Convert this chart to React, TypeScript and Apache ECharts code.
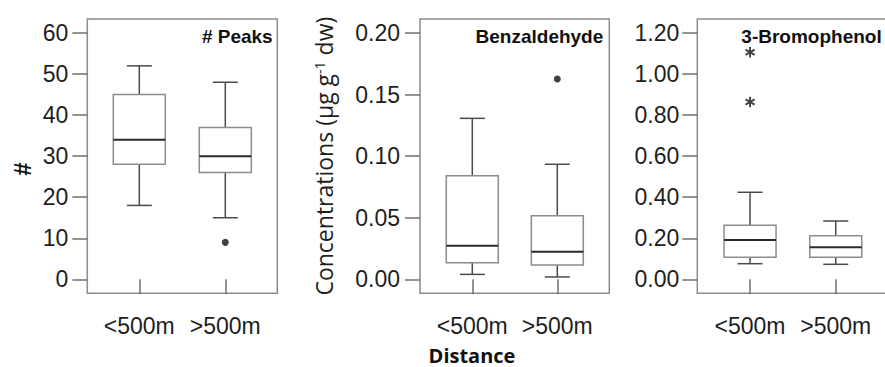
import React, { useEffect, useRef } from "react";
import * as echarts from "echarts";

const categories = ["<500m", ">500m"];

// [low whisker, Q1, median, Q3, high whisker]
const peaksStats = [
  [18, 28, 34, 45, 52],
  [15, 26, 30, 37, 48],
];
const peaksOutliers = [[1, 9]];

const benzStats = [
  [0.004, 0.0135, 0.0273, 0.084, 0.1307],
  [0.0019, 0.0116, 0.0224, 0.0517, 0.0934],
];
const benzOutliers = [[1, 0.1627]];

const bromoStats = [
  [0.076, 0.107, 0.1915, 0.263, 0.424],
  [0.073, 0.107, 0.156, 0.2125, 0.284],
];
const bromoExtremes = [
  [0, 1.106],
  [0, 0.864],
];

const peaksTicks = [0, 10, 20, 30, 40, 50, 60];
const benzTicks = [0, 0.05, 0.1, 0.15, 0.2];
const bromoTicks = [0, 0.2, 0.4, 0.6, 0.8, 1.0, 1.2];

const titles = ["# Peaks", "Benzaldehyde", "3-Bromophenol"];

const STAR =
  "path://M4.1 0 L5.9 0 L5.9 10 L4.1 10 Z M0.22 3.28 L1.12 1.72 L9.78 6.72 L8.88 8.28 Z M1.12 8.28 L0.22 6.72 L8.88 1.72 L9.78 3.28 Z";

const SANS = "'Liberation Sans', Arial, sans-serif";
const HUMAN = "'Open Sans', 'Noto Sans', sans-serif";
const LABEL_COLOR = "#1e1e1e";
const GREY = "#8c8c8c";

export default function App() {
  const ref = useRef<HTMLDivElement>(null);

  useEffect(() => {
    document.body.style.margin = "0";
    if (!ref.current) return;
    const chart = echarts.init(ref.current, null, { renderer: "svg" });

    const frames = [
      { x: 87.3, w: 190 },
      { x: 420, w: 189.3 },
      { x: 697.3, w: 190 },
    ];
    const grids = [
      { left: 96.3, width: 172 },
      { left: 429.8, width: 170 },
      { left: 707.2, width: 171.4 },
    ];
    const top = 19;
    const height = 274.3;

    const yRanges = [
      { min: -3.41, max: 63.41, ticks: peaksTicks, fmt: (v: number) => String(Math.round(v)) },
      { min: -0.01137, max: 0.21137, ticks: benzTicks, fmt: (v: number) => v.toFixed(2) },
      { min: -0.0682, max: 1.2682, ticks: bromoTicks, fmt: (v: number) => v.toFixed(2) },
    ];
    const labelMargins = [19, 20, 18];

    const statsList = [peaksStats, benzStats, bromoStats];

    const renderBox = (params: any, api: any) => {
      const x = api.value(0);
      const lo = api.coord([x, api.value(1)]);
      const q1 = api.coord([x, api.value(2)]);
      const med = api.coord([x, api.value(3)]);
      const q3 = api.coord([x, api.value(4)]);
      const hi = api.coord([x, api.value(5)]);
      const cx = lo[0];
      const hw = 26;
      const cw = 12.5;
      const wStyle = { stroke: "#4a4a4a", lineWidth: 1.5, fill: "none" };
      return {
        type: "group",
        children: [
          { type: "line", shape: { x1: cx, y1: hi[1], x2: cx, y2: q3[1] }, style: wStyle },
          { type: "line", shape: { x1: cx - cw, y1: hi[1], x2: cx + cw, y2: hi[1] }, style: wStyle },
          { type: "line", shape: { x1: cx, y1: lo[1], x2: cx, y2: q1[1] }, style: wStyle },
          { type: "line", shape: { x1: cx - cw, y1: lo[1], x2: cx + cw, y2: lo[1] }, style: wStyle },
          {
            type: "rect",
            shape: { x: cx - hw, y: q3[1], width: hw * 2, height: q1[1] - q3[1] },
            style: { fill: "#ffffff", stroke: GREY, lineWidth: 1.5 },
          },
          {
            type: "line",
            shape: { x1: cx - hw, y1: med[1], x2: cx + hw, y2: med[1] },
            style: { stroke: "#2a2a2a", lineWidth: 2 },
          },
        ],
      };
    };

    const option: any = {
      animation: false,
      backgroundColor: "#ffffff",
      grid: grids.map((g) => ({
        left: g.left,
        width: g.width,
        top,
        height,
        containLabel: false,
        outerBoundsMode: "none",
      })),
      xAxis: grids.map((_, i) => ({
        type: "category",
        gridIndex: i,
        data: categories,
        boundaryGap: true,
        axisLine: { show: false },
        axisTick: {
          show: true,
          interval: 0,
          alignWithLabel: true,
          length: 15,
          lineStyle: { color: "#6f6f6f", width: 1.5 },
        },
        axisLabel: {
          interval: 0,
          hideOverlap: false,
          margin: 21,
          fontSize: 23,
          fontFamily: SANS,
          color: LABEL_COLOR,
        },
        splitLine: { show: false },
      })),
      yAxis: yRanges.map((r, i) => ({
        type: "value",
        gridIndex: i,
        min: r.min,
        max: r.max,
        offset: grids[i].left - frames[i].x,
        axisLine: { show: false },
        axisTick: { show: true, length: 15, customValues: r.ticks, lineStyle: { color: "#6f6f6f", width: 1.5 } },
        axisLabel: {
          customValues: r.ticks,
          formatter: r.fmt,
          margin: labelMargins[i],
          fontSize: 23,
          fontFamily: SANS,
          color: LABEL_COLOR,
        },
        splitLine: { show: false },
        ...(i === 1
          ? {
              name: "Concentrations (µg g{sup|-1} dw)",
              nameLocation: "middle",
              nameGap: 84,
              nameTextStyle: {
                fontFamily: HUMAN,
                fontSize: 23,
                color: LABEL_COLOR,
                rich: {
                  sup: {
                    fontFamily: HUMAN,
                    fontSize: 14,
                    verticalAlign: "top",
                    color: LABEL_COLOR,
                    padding: [0, 0, 10, 0],
                  },
                },
              },
            }
          : {}),
      })),
      series: [
        ...statsList.map((stats, i) => ({
          type: "custom",
          xAxisIndex: i,
          yAxisIndex: i,
          renderItem: renderBox,
          encode: { x: 0, y: [1, 2, 3, 4, 5] },
          data: stats.map((s, k) => [k, ...s]),
          z: 2,
        })),
        {
          type: "scatter",
          xAxisIndex: 0,
          yAxisIndex: 0,
          symbol: "circle",
          symbolSize: 7,
          itemStyle: { color: "#111111" },
          data: peaksOutliers,
          z: 3,
        },
        {
          type: "scatter",
          xAxisIndex: 1,
          yAxisIndex: 1,
          symbol: "circle",
          symbolSize: 7,
          itemStyle: { color: "#111111" },
          data: benzOutliers,
          z: 3,
        },
        {
          type: "scatter",
          xAxisIndex: 2,
          yAxisIndex: 2,
          symbol: STAR,
          symbolSize: [10, 10.5],
          itemStyle: { color: "#111111" },
          data: bromoExtremes,
          z: 3,
        },
      ],
      graphic: [
        ...frames.map((f) => ({
          type: "rect",
          shape: { x: f.x, y: top, width: f.w, height },
          style: { fill: "none", stroke: GREY, lineWidth: 1.5 },
          z: 0,
          silent: true,
        })),
        {
          type: "text",
          x: 272.7,
          y: 36,
          style: { text: titles[0], align: "right", verticalAlign: "middle", font: `bold 19px ${SANS}`, fill: "#111" },
        },
        {
          type: "text",
          x: 603.3,
          y: 36,
          style: { text: titles[1], align: "right", verticalAlign: "middle", font: `bold 19px ${SANS}`, fill: "#111" },
        },
        {
          type: "text",
          x: 881.7,
          y: 36,
          style: { text: titles[2], align: "right", verticalAlign: "middle", font: `bold 19px ${SANS}`, fill: "#111" },
        },
        {
          type: "text",
          x: 22,
          y: 169,
          rotation: Math.PI / 2,
          style: { text: "#", align: "center", verticalAlign: "middle", font: `bold 24px ${SANS}`, fill: "#111" },
        },
        {
          type: "text",
          x: 472,
          y: 355,
          style: {
            text: "Distance",
            align: "center",
            verticalAlign: "middle",
            font: `bold 20px ${HUMAN}`,
            fill: "#111",
          },
        },
      ],
    };

    chart.setOption(option);
    return () => chart.dispose();
  }, []);

  return <div ref={ref} style={{ width: 885, height: 367 }} />;
}
